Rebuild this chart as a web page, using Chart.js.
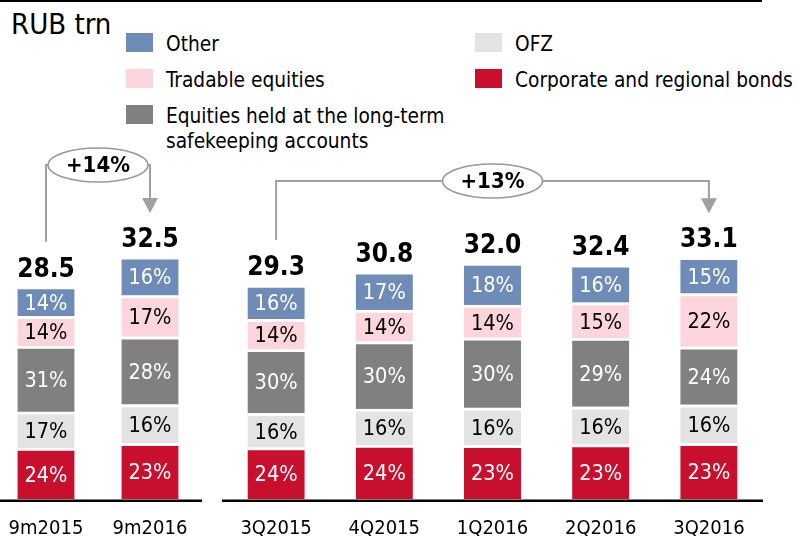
<!DOCTYPE html>
<html>
<head>
<meta charset="utf-8">
<script src="https://cdn.jsdelivr.net/npm/chart.js@4.4.1/dist/chart.umd.min.js"></script>
<style>
  html, body { margin: 0; padding: 0; background: #fff; overflow: hidden; }
  #page { position: relative; width: 798px; height: 536px; font-family: "DejaVu Sans Condensed", "DejaVu Sans", sans-serif; color: #000; }
  #topLine { position: absolute; left: 0; top: 0; width: 762px; height: 2px; background: #000; }
  #unit { position: absolute; left: 11px; top: 7px; font-size: 29px; line-height: 34px; }
  .lg-swatch { position: absolute; width: 27px; height: 19px; }
  .lg-text { position: absolute; font-size: 20.7px; line-height: 25px; width: 295px; }
  #wrapA { position: absolute; left: -6px; top: 0; width: 208px; height: 536px; }
  #wrapB { position: absolute; left: 222px; top: 0; width: 541px; height: 536px; }
</style>
</head>
<body>
<div id="page">
  <div id="topLine"></div>
  <div id="unit">RUB trn</div>
  <div id="legend"></div>
  <div id="wrapA"><canvas id="chartA" width="208" height="536"></canvas></div>
  <div id="wrapB"><canvas id="chartB" width="541" height="536"></canvas></div>
</div>
<script>
// Nine-month comparison
const categoriesA = ["9m2015", "9m2016"];
const totalsA = [28.5, 32.5];
// Quarter ends
const categoriesB = ["3Q2015", "4Q2015", "1Q2016", "2Q2016", "3Q2016"];
const totalsB = [29.3, 30.8, 32.0, 32.4, 33.1];

// shares of the total, %, stacked bottom to top
const corporateA = [24, 23];
const ofzA = [17, 16];
const heldA = [31, 28];
const tradableA = [14, 17];
const otherA = [14, 16];

const corporateB = [24, 24, 23, 23, 23];
const ofzB = [16, 16, 16, 16, 16];
const heldB = [30, 30, 30, 29, 24];
const tradableB = [14, 14, 14, 15, 22];
const otherB = [16, 17, 18, 16, 15];

const seriesNames = [
  "Corporate and regional bonds",
  "OFZ",
  "Equities held at the long-term safekeeping accounts",
  "Tradable equities",
  "Other"
];
const growthA = { from: 0, to: 1, text: "+14%" };
const growthB = { from: 0, to: 4, text: "+13%" };

// styles
const fills = ["#c8102e", "#e3e3e3", "#808080", "#fdd5dd", "#6f8cb9"];
const inkColors = ["#fff", "#000", "#fff", "#000", "#fff"];
const FONT = '"DejaVu Sans Condensed", "DejaVu Sans", sans-serif';
const GAP = 3;

// legend: [series index, swatch x, swatch y]
const legendSlots = [[4, 126, 33], [3, 126, 69], [2, 126, 105], [1, 475, 33], [0, 475, 69]];
const legendBox = document.getElementById("legend");
legendSlots.forEach(([k, x, y]) => {
  const sw = document.createElement("div");
  sw.className = "lg-swatch";
  sw.style.left = x + "px";
  sw.style.top = y + "px";
  sw.style.background = fills[k];
  legendBox.appendChild(sw);
  const tx = document.createElement("div");
  tx.className = "lg-text";
  tx.style.left = (x + 40) + "px";
  tx.style.top = (y - 1) + "px";
  tx.textContent = seriesNames[k];
  legendBox.appendChild(tx);
});

const barLabels = {
  id: "barLabels",
  afterDatasetsDraw(chart, args, opts) {
    const ctx = chart.ctx;
    const area = chart.chartArea;
    ctx.save();

    // baseline
    ctx.fillStyle = "#000";
    ctx.fillRect(area.left, area.bottom + 0.5, area.right - area.left, 2.5);

    const tops = [];
    const xs = [];
    ctx.textAlign = "center";
    ctx.textBaseline = "middle";
    ctx.font = "21.5px " + FONT;
    chart.data.datasets.forEach((ds, k) => {
      chart.getDatasetMeta(k).data.forEach((bar, i) => {
        const p = bar.getProps(["x", "y", "base"], true);
        xs[i] = p.x;
        tops[i] = Math.min(tops[i] === undefined ? Infinity : tops[i], p.y);
        ctx.fillStyle = inkColors[k];
        ctx.fillText(ds.pct[i] + "%", p.x, (p.y + GAP + p.base) / 2 + 1);
      });
    });

    // totals and category names
    ctx.fillStyle = "#000";
    ctx.textBaseline = "alphabetic";
    opts.totals.forEach((t, i) => {
      ctx.font = "bold 26px " + FONT;
      ctx.fillText(t.toFixed(1), xs[i], tops[i] - 10);
      ctx.font = "20px " + FONT;
      ctx.fillText(chart.data.labels[i], xs[i], 534);
    });

    // growth bracket
    const g = opts.growth;
    const x1 = xs[g.from], x2 = xs[g.to];
    const lvl = opts.level;
    const startY = tops[g.from] - 45;
    const tipY = tops[g.to] - 44;
    ctx.strokeStyle = "#a0a0a0";
    ctx.fillStyle = "#a0a0a0";
    ctx.lineWidth = 2;
    ctx.beginPath();
    ctx.moveTo(x1, startY);
    ctx.lineTo(x1, lvl);
    ctx.lineTo(x2, lvl);
    ctx.lineTo(x2, tipY - 12);
    ctx.stroke();
    ctx.beginPath();
    ctx.moveTo(x2 - 8, tipY - 15);
    ctx.lineTo(x2 + 8, tipY - 15);
    ctx.lineTo(x2, tipY);
    ctx.closePath();
    ctx.fill();

    const cx = (x1 + x2) / 2;
    const rx = Math.min(50, (x2 - x1) / 2 - 1);
    ctx.beginPath();
    ctx.ellipse(cx, lvl, rx, 17, 0, 0, Math.PI * 2);
    ctx.fillStyle = "#fff";
    ctx.fill();
    ctx.lineWidth = 1.5;
    ctx.strokeStyle = "#999";
    ctx.stroke();
    ctx.fillStyle = "#000";
    ctx.font = "bold 22px " + FONT;
    ctx.textBaseline = "middle";
    ctx.fillText(g.text, cx, lvl + 1);
    ctx.restore();
  }
};

function makeChart(id, labels, totals, shares, growth, level, topPad) {
  return new Chart(document.getElementById(id), {
    type: "bar",
    data: {
      labels: labels,
      datasets: shares.map((s, k) => ({
        label: seriesNames[k],
        data: s.map((p, i) => totals[i] * p / 100),
        pct: s,
        backgroundColor: fills[k],
        borderColor: "#fff",
        borderWidth: { top: GAP, right: 0, bottom: 0, left: 0 },
        borderSkipped: false,
        barThickness: 57
      }))
    },
    options: {
      responsive: false,
      animation: false,
      devicePixelRatio: 1,
      layout: { padding: { top: topPad, bottom: 37, left: 0, right: 0 } },
      plugins: {
        legend: { display: false },
        tooltip: { enabled: false },
        barLabels: { totals: totals, growth: growth, level: level }
      },
      scales: {
        x: { display: false, stacked: true },
        y: { display: false, stacked: true, min: 0, max: 40 }
      }
    },
    plugins: [barLabels]
  });
}

makeChart("chartA", categoriesA, totalsA, [corporateA, ofzA, heldA, tradableA, otherA], growthA, 165, 201);
makeChart("chartB", categoriesB, totalsB, [corporateB, ofzB, heldB, tradableB, otherB], growthB, 181, 207);
</script>
</body>
</html>
